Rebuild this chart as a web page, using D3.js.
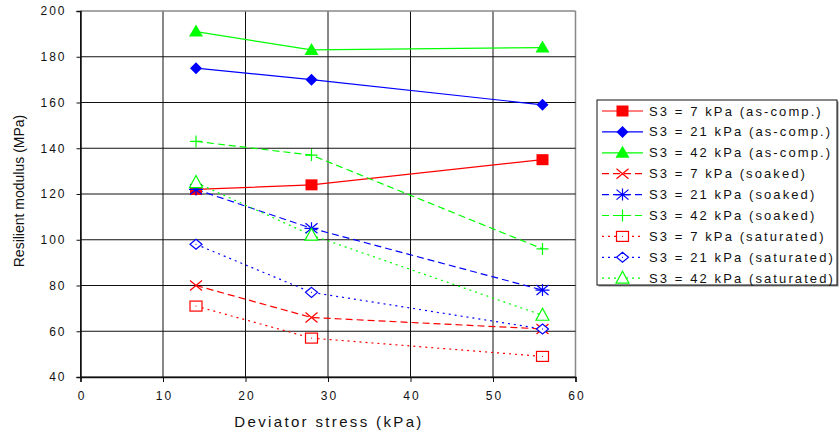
<!DOCTYPE html>
<html>
<head>
<meta charset="utf-8">
<script src="https://cdn.jsdelivr.net/npm/d3@7"></script>
<style>
  body { margin: 0; background: #fff; }
  svg { display: block; font-family: "Liberation Sans", Arial, sans-serif; }
</style>
</head>
<body>
<svg id="chart" width="839" height="436"></svg>
<script>
// Deviator stress levels (kPa)
const deviatorStress = [14, 28, 56];

// Resilient modulus (MPa) per confining pressure and moisture condition
const asComp7 = [122, 124, 135];
const asComp21 = [175, 170, 159];
const asComp42 = [191, 183, 184];
const soaked7 = [80, 66, 61];
const soaked21 = [122, 105, 78];
const soaked42 = [143, 137, 96];
const saturated7 = [71, 57, 49];
const saturated21 = [98, 77, 61];
const saturated42 = [125, 102, 67];

const seriesLabels = [
  "S3 = 7 kPa (as-comp.)", "S3 = 21 kPa (as-comp.)", "S3 = 42 kPa (as-comp.)",
  "S3 = 7 kPa (soaked)", "S3 = 21 kPa (soaked)", "S3 = 42 kPa (soaked)",
  "S3 = 7 kPa (saturated)", "S3 = 21 kPa (saturated)", "S3 = 42 kPa (saturated)"
];
const xTicks = [0, 10, 20, 30, 40, 50, 60];
const yTicks = [40, 60, 80, 100, 120, 140, 160, 180, 200];

const RED = "#ff0000", BLUE = "#0000ff", GREEN = "#00ff00";
const SOLID = null, DASH = "7,4", DOT = "2,4";

const series = [
  { values: asComp7, color: RED, dash: SOLID, marker: "squareFill" },
  { values: asComp21, color: BLUE, dash: SOLID, marker: "diamondFill" },
  { values: asComp42, color: GREEN, dash: SOLID, marker: "triangleFill" },
  { values: soaked7, color: RED, dash: DASH, marker: "x" },
  { values: soaked21, color: BLUE, dash: DASH, marker: "asterisk" },
  { values: soaked42, color: GREEN, dash: DASH, marker: "plus" },
  { values: saturated7, color: RED, dash: DOT, marker: "squareOpen" },
  { values: saturated21, color: BLUE, dash: DOT, marker: "diamondOpen" },
  { values: saturated42, color: GREEN, dash: DOT, marker: "triangleOpen" }
].map((s, i) => ({ ...s, label: seriesLabels[i] }));

const svg = d3.select("#chart");
const m = { left: 80.5, top: 11, right: 575.5, bottom: 377 };

const x = d3.scaleLinear().domain([0, 60]).range([m.left, m.right]);
const y = d3.scaleLinear().domain([40, 200]).range([m.bottom, m.top]);

// gridlines
const grid = svg.append("g");
grid.selectAll("line.v").data(xTicks).join("line")
  .attr("x1", d => x(d)).attr("x2", d => x(d))
  .attr("y1", m.top).attr("y2", m.bottom)
  .attr("stroke", d => d === 60 ? "#888" : "#111").attr("stroke-width", d => d === 60 ? 1.5 : 1);
grid.selectAll("line.h").data(yTicks).join("line")
  .attr("x1", m.left).attr("x2", m.right)
  .attr("y1", d => y(d)).attr("y2", d => y(d))
  .attr("stroke", d => d === 200 ? "#888" : "#111").attr("stroke-width", d => d === 200 ? 1.5 : 1);

// axes
const xAxis = svg.append("g")
  .attr("transform", `translate(0,${m.bottom})`)
  .call(d3.axisBottom(x).tickValues(xTicks).tickSize(5).tickPadding(9));
const yAxis = svg.append("g")
  .attr("transform", `translate(${m.left},0)`)
  .call(d3.axisLeft(y).tickValues(yTicks).tickSize(4).tickPadding(12));
[xAxis, yAxis].forEach(a => {
  a.select(".domain").attr("stroke", "#111").attr("stroke-width", 1.5);
  a.selectAll(".tick line").attr("stroke", "#111");
  a.selectAll(".tick text")
    .attr("fill", "#111")
    .style("font-family", "'Liberation Sans', Arial, sans-serif")
    .style("font-size", "12px")
    .style("letter-spacing", "2px");
});
xAxis.selectAll(".tick text").attr("dx", "1px");
yAxis.selectAll(".tick text").attr("dx", "2px");

// axis titles
svg.append("text")
  .attr("x", (m.left + m.right) / 2 + 1).attr("y", 427)
  .attr("text-anchor", "middle")
  .style("font-size", "15px").style("letter-spacing", "2.35px")
  .attr("fill", "#111")
  .text("Deviator stress (kPa)");
svg.append("text")
  .attr("transform", `translate(24,${(m.top + m.bottom) / 2 - 3}) rotate(-90)`)
  .attr("text-anchor", "middle")
  .style("font-size", "14px")
  .attr("fill", "#111")
  .text("Resilient modulus (MPa)");

// marker drawing
function drawMarker(g, type, color) {
  switch (type) {
    case "squareFill":
      g.append("rect").attr("x", -6).attr("y", -5.5).attr("width", 12).attr("height", 11).attr("fill", color);
      break;
    case "diamondFill":
      g.append("path").attr("d", "M0,-6L6,0L0,6L-6,0Z").attr("fill", color);
      break;
    case "triangleFill":
      g.append("path").attr("d", "M0,-7L7,5L-7,5Z").attr("fill", color);
      break;
    case "x":
      g.append("path").attr("d", "M-6,-5L6,5M-6,5L6,-5").attr("stroke", color).attr("stroke-width", 1.2).attr("fill", "none");
      break;
    case "asterisk":
      g.append("path").attr("d", "M-6,-5L6,5M-6,5L6,-5M-7,0L7,0M0,-6L0,6").attr("stroke", color).attr("stroke-width", 1.2).attr("fill", "none");
      break;
    case "plus":
      g.append("path").attr("d", "M-6,0L6,0M0,-6L0,6").attr("stroke", color).attr("stroke-width", 1.2).attr("fill", "none");
      break;
    case "squareOpen":
      g.append("rect").attr("x", -6).attr("y", -5).attr("width", 12).attr("height", 10).attr("fill", "#fff").attr("stroke", color).attr("stroke-width", 1.2);
      g.append("rect").attr("x", -0.5).attr("y", -0.5).attr("width", 1).attr("height", 1).attr("fill", color);
      break;
    case "diamondOpen":
      g.append("path").attr("d", "M0,-5L6,0L0,5L-6,0Z").attr("fill", "#fff").attr("stroke", color).attr("stroke-width", 1.2);
      g.append("rect").attr("x", -0.5).attr("y", -0.5).attr("width", 1).attr("height", 1).attr("fill", color);
      break;
    case "triangleOpen":
      g.append("path").attr("d", "M0,-7L6.5,5L-6.5,5Z").attr("fill", "#fff").attr("stroke", color).attr("stroke-width", 1.2);
      break;
  }
}

const line = d3.line().x((d, i) => x(deviatorStress[i])).y(d => y(d));

const plot = svg.append("g");
series.forEach(s => {
  plot.append("path").datum(s.values)
    .attr("d", line)
    .attr("fill", "none")
    .attr("stroke", s.color)
    .attr("stroke-width", 1.2)
    .attr("stroke-dasharray", s.dash);
});
series.forEach(s => {
  s.values.forEach((v, i) => {
    const g = plot.append("g").attr("transform", `translate(${x(deviatorStress[i])},${y(v)})`);
    drawMarker(g, s.marker, s.color);
  });
});

// legend
const lg = svg.append("g").attr("transform", "translate(597,100)");
lg.append("rect").attr("x", 1.5).attr("y", 1.5).attr("width", 240).attr("height", 185)
  .attr("fill", "#888");
lg.append("rect").attr("x", 0).attr("y", 0).attr("width", 240).attr("height", 185)
  .attr("fill", "#fff").attr("stroke", "#111").attr("stroke-width", 1);
series.forEach((s, i) => {
  const ry = 11 + i * 20.9;
  lg.append("line").attr("x1", 5).attr("x2", 46).attr("y1", ry).attr("y2", ry)
    .attr("stroke", s.color).attr("stroke-width", 1.2).attr("stroke-dasharray", s.dash);
  drawMarker(lg.append("g").attr("transform", `translate(25.5,${ry})`), s.marker, s.color);
  lg.append("text").attr("x", 52).attr("y", ry + 4.5)
    .style("font-size", "13px").style("letter-spacing", "2.1px")
    .attr("fill", "#111")
    .text(s.label);
});
</script>
</body>
</html>
